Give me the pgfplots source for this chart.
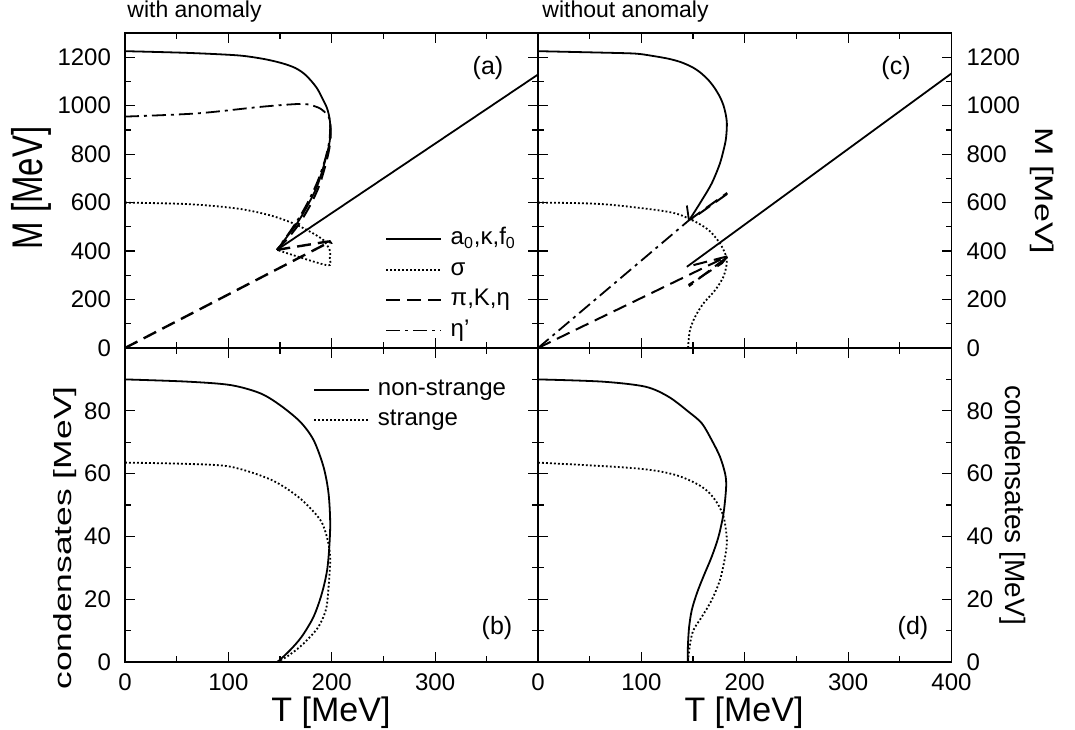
\documentclass[border=0pt]{standalone}
\usepackage{fontspec}
\setmainfont{Liberation Sans}
\usepackage{graphicx}
\usepackage{pgfplots}
\pgfplotsset{compat=1.18}

\pgfplotsset{
  panel/.style={
    scale only axis, width=206.75pt, anchor=south west,
    xmin=0, xmax=400,
    xtick={0,100,...,400}, minor xtick={50,150,250,350},
    tick align=inside, tick pos=both,
    major tick length=5pt, minor tick length=3pt,
    axis line style={line width=0.75pt},
    every tick/.style={line width=0.6pt, black},
    tick label style={font=\fontsize{12}{14}\selectfont},
    /pgf/number format/assume math mode=true,
    /pgf/number format/1000 sep={},
    xticklabel style={yshift=-2.5pt},
  },
  mass/.style={panel, height=157.5pt, ymin=0, ymax=1300,
    ytick={0,200,...,1200}, minor ytick={100,300,...,1100}, xticklabels={}},
  cond/.style={panel, height=157pt, ymin=0, ymax=100,
    ytick={0,20,...,100}, minor ytick={10,30,...,90}, yticklabels={0,20,40,60,80,}},
  lft/.style={yticklabel pos=left, yticklabel style={xshift=-3.5pt}},
  rgt/.style={yticklabel pos=right, yticklabel style={xshift=4pt}},
  leg/.style={legend cell align=left,
    legend image code/.code={\draw[##1] (0pt,0pt) -- (27.5pt,0pt);},
    legend style={draw=none, fill=none, inner sep=0pt, outer sep=0pt,
      font=\fontsize{12}{14}\selectfont, row sep=1.6pt, column sep=3pt,
      nodes={inner sep=1pt, text height=8.6pt, text depth=3pt}}},
  sol/.style={black, line width=0.9pt, no marks, solid},
  dot/.style={black, line width=0.9pt, no marks, dash pattern=on 0.9pt off 1.1pt},
  dsh/.style={black, line width=1pt, no marks, dash pattern=on 7pt off 3.5pt},
  dshd/.style={black, line width=0.9pt, no marks, dash pattern=on 7pt off 2.5pt on 1.5pt off 2.5pt},
}

\begin{document}
\begin{tikzpicture}
\path[use as bounding box] (0pt,0pt) rectangle (537.5pt,364.5pt);

% (a) masses with anomaly
\begin{axis}[mass, lft, leg, at={(62.5pt,190.5pt)},
  legend style={at={(axis cs:251.8,505)}, anchor=north west}]
\addplot[sol, smooth, tension=0.5] coordinates {
(0,1225) (60,1218) (108,1208) (130,1196) (145,1183) (156,1170) (165,1155)
(173,1133) (180,1103) (186,1070) (191,1030) (195.4,990) (197.8,950)
(198.8,905) (198.5,870) (197,830) (192,748) (185.6,665)
(176,583) (166.4,514) (156.7,459) (147,405)};
\addlegendentry{a\textsubscript{0},κ,f\textsubscript{0}}
\addplot[dot, smooth, tension=0.5] coordinates {
(0,600) (60,594) (108,576) (140,548) (163,514) (179,480) (192,445)
(198,404) (198.5,385) (198,368) (195,342) (147,405)};
\addlegendentry{σ}
\addplot[dsh, line width=1.2pt] coordinates {(0,0) (195,431) (199,434) (198,440) (194,438) (147,405)};
\addlegendentry{π,K,η}
\addplot[dshd, smooth, tension=0.5] coordinates {
(0,955) (69,968) (130.7,995) (163,1006) (176,1006) (189,988) (197,954)
(198.5,920) (197.5,850) (193,770) (186.5,690) (178.5,615) (169.5,545)
(159.5,480) (152,435) (147,405)};
\addlegendentry{η’}
\addplot[sol, forget plot] coordinates {(147,405) (400,1130)};
\addplot[dsh, smooth, tension=0.5, forget plot] coordinates {
(147,405) (158,455) (168,510) (178,580) (187,660) (193,740) (197.5,820)
(199,880) (198.5,925)};
\end{axis}

% (b) condensates with anomaly
\begin{axis}[cond, lft, leg, at={(62.5pt,33.5pt)},
  xticklabels={0,100,200,300,},
  legend style={at={(axis cs:182,91)}, anchor=north west}]
\addplot[sol, smooth, tension=0.5] coordinates {
(0,90) (59.7,89.3) (102,88.2) (130.7,85.6) (150,81.8) (169.5,76.5)
(182.4,70.7) (192,62.2) (196.9,53.7) (198.5,43) (196,30.4) (190.5,21.9)
(182.4,14.4) (171,8.1) (159.8,3.8) (148.5,0.3) (147,0)};
\addlegendentry{non-strange}
\addplot[dot, smooth, tension=0.5] coordinates {
(0,63.5) (59.7,63.1) (102,62.2) (141.6,58) (169,52.2) (189,45.2) (196,38.9)
(198.5,33.5) (197.9,28.2) (195,17.6) (189,12.3) (182.4,9.2) (169.5,4.9)
(156.6,1.7) (147,0)};
\addlegendentry{strange}
\end{axis}

% (c) masses without anomaly
\begin{axis}[mass, rgt, at={(269pt,190.5pt)}]
\addplot[sol, smooth, tension=0.5] coordinates {
(0,1225) (61.7,1219) (94,1215) (110,1206) (126,1194) (138,1180) (148.8,1160)
(157,1137) (165,1105) (171,1072) (176,1036) (179.5,1000) (181.8,960)
(182.7,927) (182.3,885) (181,844) (176,762) (168,679) (158.5,610) (150.4,555)
(146,527)};
\addplot[sol] coordinates {(146,527) (144,588)};
\addplot[sol] coordinates {(144,335) (400,1133)};
\addplot[dot, smooth, tension=0.5] coordinates {
(0,600) (61.7,594) (126,562) (148.8,528) (165,487) (176,432) (181,390)
(182.7,365) (182.5,345) (179.4,294) (171.4,239) (160,184) (152,129)
(147,74) (145.3,12) (145.3,0)};
\addplot[dshd] coordinates {(0,0) (146,527)};
\addplot[dsh] coordinates {(146,527) (183,640)};
\addplot[dsh] coordinates {(183,636) (148,530)};
\addplot[dsh] coordinates {(0,0) (183,378) (144,335)};
\addplot[dsh] coordinates {(183,377) (178,350) (145.6,260)};
\addplot[dsh] coordinates {(182,372) (146,255)};
\end{axis}

% (d) condensates without anomaly
\begin{axis}[cond, rgt, at={(269pt,33.5pt)},
  xticklabels={0,100,200,300,400}]
\addplot[sol, smooth, tension=0.5] coordinates {
(0,90) (61.7,89.3) (103.6,87.7) (126.2,84.5) (145.6,79.7) (158.5,76)
(168,70.7) (176,65.4) (181,60) (182,55.8) (179.5,47.4) (174.6,39.9)
(168,33.5) (160,27.2) (153.7,21.9) (148.8,16.6) (146.2,11.2) (145,4.9) (145,0)};
\addplot[dot, smooth, tension=0.5] coordinates {
(0,63.5) (94,61.7) (132.7,59.6) (158.5,55.8) (171.4,51.6) (179.5,46.3)
(182.7,38.9) (181,33.5) (176,26.1) (168,19.7) (158.5,14.4) (150.4,10.2)
(147.2,6) (145.6,1.7) (145.3,0)};
\end{axis}

% titles, panel tags and axis labels
\node[anchor=base west, inner sep=0pt, font=\fontsize{11.5}{13}\selectfont] at (63.5pt,355.5pt) {with anomaly};
\node[anchor=base west, inner sep=0pt, font=\fontsize{11.5}{13}\selectfont] at (271pt,355.5pt) {without anomaly};
\node[font=\fontsize{12.5}{14}\selectfont] at (244pt,330.5pt) {(a)};
\node[font=\fontsize{12.5}{14}\selectfont] at (448pt,330.5pt) {(c)};
\node[font=\fontsize{12.5}{14}\selectfont] at (248.5pt,50.5pt) {(b)};
\node[font=\fontsize{12.5}{14}\selectfont] at (456.5pt,50.5pt) {(d)};
\node[anchor=base, inner sep=0pt, font=\fontsize{17}{20}\selectfont] at (165.5pt,4pt) {T [MeV]};
\node[anchor=base, inner sep=0pt, font=\fontsize{17}{20}\selectfont] at (372pt,4pt) {T [MeV]};
\node[anchor=base, rotate=90, inner sep=0pt, font=\fontsize{16.5}{20}\selectfont] at (21pt,270.5pt) {\scalebox{1}[1.3]{M [MeV]}};
\node[anchor=base, rotate=-90, inner sep=0pt, font=\fontsize{17}{20}\selectfont] at (517.5pt,269pt) {\scalebox{1}[0.75]{M [MeV]}};
\node[anchor=base, rotate=90, inner sep=0pt, font=\fontsize{17.7}{20}\selectfont] at (35.5pt,95.5pt) {\scalebox{1}[0.7]{condensates [MeV]}};
\node[anchor=base, rotate=-90, inner sep=0pt, font=\fontsize{14}{16}\selectfont] at (502.5pt,112pt) {condensates [MeV]};
\end{tikzpicture}
\end{document}
